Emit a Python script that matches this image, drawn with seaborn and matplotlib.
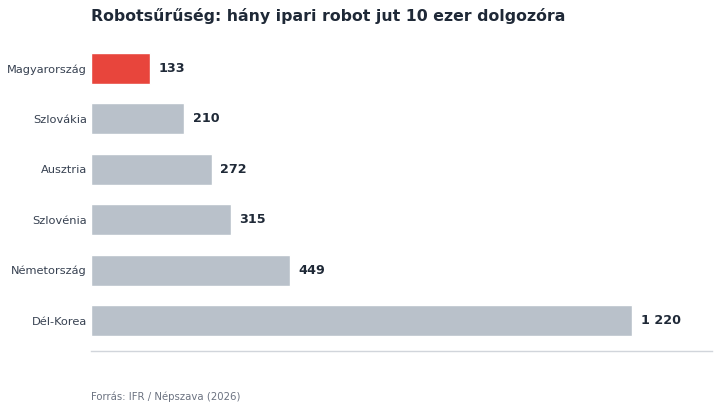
import matplotlib
matplotlib.use("Agg")
import matplotlib.pyplot as plt
import seaborn as sns
import pandas as pd

# Data
countries = ["Magyarország", "Szlovákia", "Ausztria", "Szlovénia", "Németország", "Dél-Korea"]
density = [133, 210, 272, 315, 449, 1220]
labels = ["133", "210", "272", "315", "449", "1 220"]
highlight = "Magyarország"

df = pd.DataFrame({"country": countries, "density": density})
palette = {c: ("#e8453c" if c == highlight else "#b9c1ca") for c in countries}

sns.set_theme(style="white")
plt.rcParams["font.family"] = ["DejaVu Sans"]

fig = plt.figure(figsize=(7.2, 4.11), dpi=100)
ax = fig.add_axes([0.1264, 0.146, 0.8626, 0.7615])

sns.barplot(data=df, x="density", y="country", hue="country", palette=palette,
            order=countries, width=0.62, legend=False, ax=ax, saturation=1)

for i, (v, lab) in enumerate(zip(density, labels)):
    ax.annotate(lab, xy=(v, i), xytext=(6, 0), textcoords="offset points",
                va="center", ha="left", fontsize=9.2, fontweight="bold", color="#1f2937")

ax.set_xlim(0, 1400)
ax.set_ylim(5.6, -0.6)
ax.set_xlabel("")
ax.set_ylabel("")
ax.set_xticks([])
ax.tick_params(axis="y", length=0, labelsize=8.2, labelcolor="#374151", pad=3)
for s in ["top", "right", "left"]:
    ax.spines[s].set_visible(False)
ax.spines["bottom"].set_color("#d1d5db")
ax.spines["bottom"].set_linewidth(1)

fig.text(0.1264, 0.96, "Robotsűrűség: hány ipari robot jut 10 ezer dolgozóra",
         fontsize=11.3, fontweight="bold", color="#1f2937", va="center", ha="left")
fig.text(0.1264, 0.034, "Forrás: IFR / Népszava (2026)",
         fontsize=7.3, color="#6b7280", va="center", ha="left")

fig.savefig("out.png", dpi=100)
